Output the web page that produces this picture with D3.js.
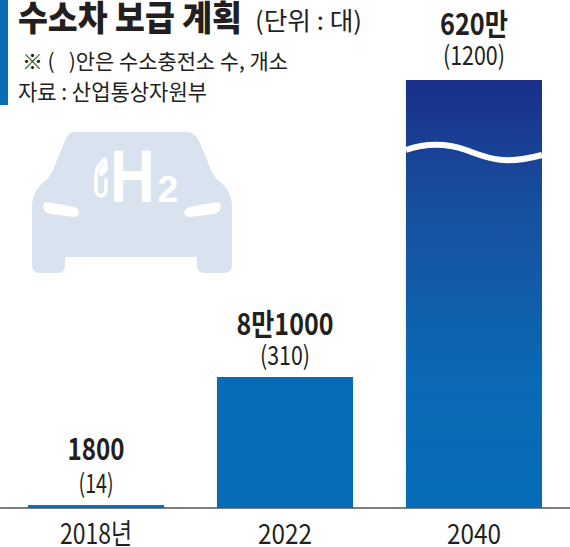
<!DOCTYPE html>
<html><head><meta charset="utf-8">
<script src="https://cdn.jsdelivr.net/npm/d3@7/dist/d3.min.js"></script>
<style>html,body{margin:0;padding:0;background:#fff;overflow:hidden}svg{display:block}text{font-family:"Noto Sans CJK KR","Noto Sans",sans-serif;white-space:pre}</style>
</head><body><svg id="c" width="570" height="547"></svg>
<script>
const categories=["2018년","2022","2040"];
const values=[1800,81000,6200000];
const valueLabels=["1800","8만1000","620만"];
const stationLabels=["(14)","(310)","(1200)"];
const valueWidths=[57,97,68], stationWidths=[35,50,62], tickWidths=[72,54,54];
const title="수소차 보급 계획", unit="(단위 : 대)", note="※ (   )안은 수소충전소 수, 개소", source="자료 : 산업통상자원부";
const svg=d3.select("#c"),W=570;
const x=d3.scaleBand().domain(categories).range([28,542]).paddingInner(0.28).paddingOuter(0);
const y=d3.scaleLinear().domain([0,81000,6200000]).range([508,377,80]);
const g=svg.append("defs").append("linearGradient").attr("id","g").attr("x1",0).attr("y1",0).attr("x2",0).attr("y2",1);
g.append("stop").attr("offset","0").attr("stop-color","#1a2f8a");
g.append("stop").attr("offset","0.3").attr("stop-color","#17509f");
g.append("stop").attr("offset","0.7").attr("stop-color","#0b69b6");
g.append("stop").attr("offset","1").attr("stop-color","#066cb8");
function t(s,xx,yy,size,weight,width,anchor,fill,family){
 const el=svg.append("text").attr("x",xx).attr("y",yy).attr("text-anchor",anchor||"middle")
  .attr("font-size",size).attr("font-weight",weight).attr("fill",fill||"#231f20").text(s);
 if(width) el.attr("textLength",width).attr("lengthAdjust","spacingAndGlyphs");
 if(family) el.style("font-family",family);
 return el;
}
svg.append("rect").attr("x",0).attr("y",0).attr("width",8).attr("height",105).attr("fill","#0a6cb8");
t(title,18,31,35,900,224,"start");
t(unit,255,30,25,400,107,"start");
t(note,22,69,21,400,266,"start");
t(source,18,100,22,400,189,"start");
// car icon
const car=svg.append("g");
car.append("path").attr("fill","#d9e3f0").attr("d","M74 132H186Q195 132 199 141L212 172Q214 177 219 181Q232 191 232 207V265Q232 273 224 273H205Q197 273 197 265V257H65V265Q65 273 57 273H40Q32 273 32 265V207Q32 191 45 181Q50 177 52 172L65 141Q68 132 74 132Z");
car.append("path").attr("fill","#fff").attr("d","M47 202L75 207Q79 209 79 213Q78 217 74 217L50 214Q43 212 43 207Q43 202 47 202ZM217 202L189 207Q185 209 184 213Q185 217 190 217L214 214Q221 212 221 207Q221 202 217 202Z");
t("H",132.5,202,75,700,45,"middle","#fff","Liberation Sans");
t("2",168,202,36,700,21,"middle","#fff","Liberation Sans");
car.append("path").attr("fill","none").attr("stroke","#fff").attr("stroke-width",3.5).attr("stroke-linecap","round").attr("d","M105 159Q96 166 96 175V190Q97 196 101 196Q106 195 106 188V180");
car.append("path").attr("fill","#fff").attr("d","M99 170L107 158L108 170Q104 176 99 176Z");
// bars
svg.selectAll("rect.bar").data(values).join("rect").attr("class","bar")
 .attr("x",(d,i)=>x(categories[i])).attr("width",x.bandwidth())
 .attr("y",d=>y(d)).attr("height",d=>y(0)-y(d))
 .attr("fill",(d,i)=>i==2?"url(#g)":"#066cb8");
// axis break
const bx=x("2040"), bw=x.bandwidth();
svg.append("path").attr("fill","none").attr("stroke","#fff").attr("stroke-width",6)
 .attr("d",`M${bx} 150C${bx+20} 143 ${bx+40} 143 ${bx+60} 150S${bx+95} 166 ${bw+bx} 155`);
svg.append("line").attr("x1",0).attr("x2",W).attr("y1",508).attr("y2",508).attr("stroke","#555").attr("stroke-width",1.5);
const vOff=[45,42,45], sOff=[12,12,15];
categories.forEach((c,i)=>{
 const cx=x(c)+x.bandwidth()/2;
 t(valueLabels[i],cx,y(values[i])-vOff[i],30,700,valueWidths[i]);
 t(stationLabels[i],cx,y(values[i])-sOff[i],26,400,stationWidths[i]);
 t(c,cx,544,28,400,tickWidths[i]);
});
</script></body></html>
